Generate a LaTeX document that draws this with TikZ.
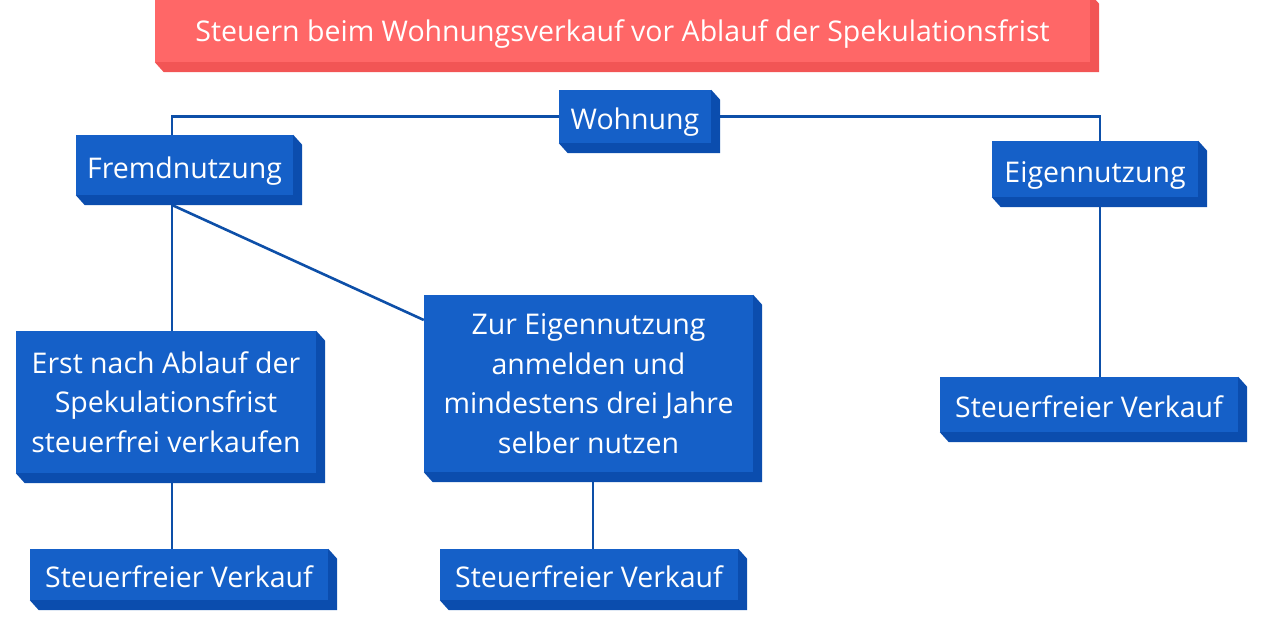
\documentclass[tikz,border=0pt]{standalone}
\usepackage{fontspec}
\setmainfont{Open Sans}
\usetikzlibrary{calc, positioning, backgrounds}
\definecolor{blockblau}{HTML}{1560C8}
\definecolor{blockdunkel}{HTML}{0B4DAE}
\definecolor{linienblau}{HTML}{0D4FA8}
\definecolor{titelrot}{HTML}{FF6767}
\definecolor{titeldunkel}{HTML}{F25555}

% Seitenflaechen eines Blocks
\newcommand{\seite}[2]{%
  \fill[#2] (#1.north east) -- ++(9,10) -- ($(#1.south east)+(9,10)$)
    -- ($(#1.south west)+(9,10)$) -- (#1.south west) -- (#1.south east) -- cycle;}

\begin{document}
\begin{tikzpicture}[x=1pt, y=-1pt, every node/.style={font=\fontsize{28.5}{39.5}\selectfont},
  blok/.style={fill=blockblau, text=white, inner sep=0pt, align=center},
  zeile/.style={text height=32pt, text depth=6pt},
  linie/.style={draw=linienblau, line width=2.6pt}]

  \useasboundingbox (0,0) rectangle (1280,640);

  % === TITEL ===
  \node[blok, zeile, fill=titelrot, minimum width=935pt, minimum height=68pt] (titel) at (622.5,28) {Steuern beim Wohnungsverkauf vor Ablauf der Spekulationsfrist};
  \seite{titel}{titeldunkel}

  % === BLOECKE ===
  \node[blok, zeile, minimum width=152pt, minimum height=53pt] (wohnung) at (635,116.5) {Wohnung};
  \node[blok, zeile, minimum width=217pt, minimum height=60pt] (fremd) at (184.5,165) {Fremdnutzung};
  \node[blok, zeile, minimum width=206pt, minimum height=56pt] (eigen) at (1095,169) {Eigennutzung};
  \node[blok, minimum width=300pt, minimum height=142pt] (erst) at (166,402) {Erst nach Ablauf der\\Spekulationsfrist\\steuerfrei verkaufen};
  \node[blok, minimum width=329pt, minimum height=177pt] (zur) at (588.5,383.5) {Zur Eigennutzung\\anmelden und\\mindestens drei Jahre\\selber nutzen};
  \node[blok, zeile, minimum width=298pt, minimum height=55pt] (frei3) at (1089,404.5) {Steuerfreier Verkauf};
  \node[blok, zeile, minimum width=298pt, minimum height=51pt] (frei1) at (179,574.5) {Steuerfreier Verkauf};
  \node[blok, zeile, minimum width=298pt, minimum height=51pt] (frei2) at (589,574.5) {Steuerfreier Verkauf};

  \foreach \n in {wohnung, fremd, eigen, erst, zur, frei3, frei1, frei2}
    \seite{\n}{blockdunkel};

  % === VERBINDUNGEN ===
  \begin{pgfonlayer}{background}
    \coordinate (fremdfuss) at (172,205);
    \draw[linie] (wohnung.west) -| (fremd.north -| fremdfuss);
    \draw[linie] (wohnung.east) -| (eigen.north -| 1100,0);
    \draw[linie] (fremdfuss) -- (erst.north -| fremdfuss);
    \draw[linie] (fremdfuss) -- (zur.west |- 0,320);
    \draw[linie] (erst.south -| fremdfuss) -- (frei1.north -| fremdfuss);
    \draw[linie] (zur.south -| 593,0) -- (frei2.north -| 593,0);
    \draw[linie] (eigen.south -| 1100,0) -- (frei3.north -| 1100,0);
  \end{pgfonlayer}

\end{tikzpicture}
\end{document}
